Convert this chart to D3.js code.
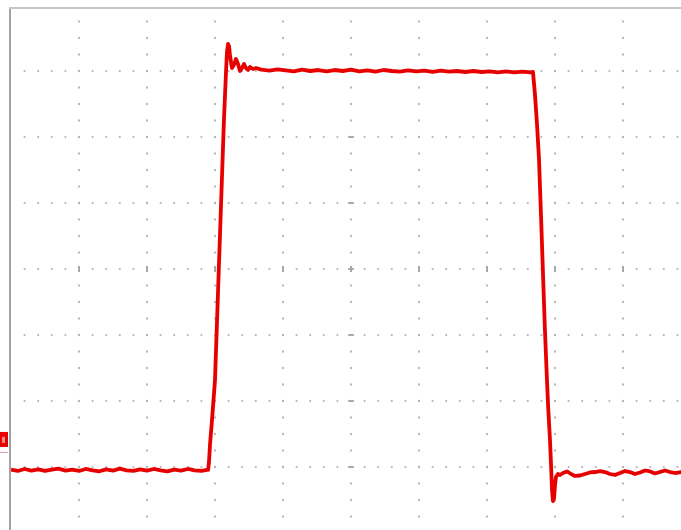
<!DOCTYPE html>
<html>
<head>
<meta charset="utf-8">
<script src="https://cdn.jsdelivr.net/npm/d3@7"></script>
<style>
html,body{margin:0;padding:0;background:#fff;}
svg{display:block;}
</style>
</head>
<body>
<svg id="chart" width="681" height="530"></svg>
<script>
// Time in ns (10 div x 50 ns), amplitude in mV (8 div x 100 mV)
const baseTime = [0,5,10,15,20,25,30,35,40,45,50,55,60,65,70,75,80,85,90,95,100,105,110,115,120,125,130,135,140,144.2];
const baseVolt = [-304,-306,-303,-305.5,-303.5,-306,-304,-302.5,-305.5,-304,-306,-303,-305,-306.5,-303.5,-305.5,-302.5,-305,-306,-303.5,-305.5,-303,-305,-306.5,-304,-305.5,-303,-305,-306,-304.5];

const riseTime = [144.9,145.6,146.3,147.8,150,152.2,154.4,156.6,158.1,158.8,159.6,160.3,161,162.5,163.9,165.4,166.9,168.4,169.8,171.3,172.8,174.3,175.7,177.9,180.1];
const riseVolt = [-304.5,-292.4,-266.7,-228.8,-168.2,-36.4,95.5,227.3,298.5,328.8,340.9,337.9,324.2,304.5,309.1,318.2,310.6,300,304.5,310.6,304.5,301.5,306.1,303,304.5];

const topTime = [184,190,196,202,208,214,220,226,232,238,244,250,256,262,268,274,280,286,292,298,304,310,316,322,328,334,340,346,352,358,364,370,376,382];
const topVolt = [302,300.5,302.5,301,299.5,302,300,301.5,299.5,301.5,300,302,299.5,301,299,301.5,300,299,301,299.5,300.5,298.5,300.5,299,300,298.5,300,298.5,299.5,298,299.5,298,299,298];

const fallTime = [383.8,385.3,386.8,388.2,389.7,391.2,392.6,394.1,394.9,396.3,397.1,397.8,398.5,399.3,400,400.7,402.2];
const fallVolt = [298.5,263.6,218.2,168.2,81.8,-9.1,-92.4,-168.2,-206.1,-259.1,-297,-334.8,-351.5,-347,-327.3,-315.2,-310.6];

const tailTime = [403.7,405.9,408.8,411.8,414.7,418.4,422.1,425.7,429.4,433.1,436.8,440.4,444.1,447.8,451.5,455.1,458.8,462.5,466.2,469.9,473.5,477.2,480.9,484.6,488.2,492.6,500];
const tailVolt = [-312.1,-309.1,-306.8,-310.6,-313.6,-312.9,-310.6,-308.3,-307.6,-306.1,-307.6,-310.6,-312.1,-309.1,-306.1,-307.6,-310.6,-308.3,-305.3,-306.8,-309.8,-307.6,-305.3,-307.6,-309.1,-307.6,-307.6];

const groundMarker = -259; // channel 1 reference level (mV)

const xDomain = [0, 500];
const yDomain = [-400, 400];
const xMajorStep = 50, xMinorStep = 10;
const yMajorStep = 100, yMinorStep = 25;

const svg = d3.select('#chart');
const x = d3.scaleLinear().domain(xDomain).range([11, 691]);
const y = d3.scaleLinear().domain(yDomain).range([533, 5]);

const xMajor = d3.range(xDomain[0], xDomain[1] + 1, xMajorStep);
const yMajor = d3.range(yDomain[0], yDomain[1], yMajorStep);      // top edge row drawn by frame
const xMinor = d3.range(xDomain[0], xDomain[1] + 1, xMinorStep);
const yMinor = d3.range(yDomain[0], yDomain[1] + 1, yMinorStep);

const defs = svg.append('defs');
defs.append('filter').attr('id', 'soft')
  .append('feGaussianBlur').attr('stdDeviation', 0.45);
defs.append('clipPath').attr('id', 'clip')
  .append('rect').attr('x', 11).attr('y', 9).attr('width', 680).attr('height', 530);

const grid = svg.append('g').attr('filter', 'url(#soft)');
const dotColor = '#b4b4b4';

// dots along horizontal major lines
yMajor.forEach(yv => {
  xMinor.forEach(xv => {
    if (xv === 0) return;
    grid.append('rect')
      .attr('x', x(xv) - 0.9).attr('y', y(yv) - 0.9)
      .attr('width', 1.8).attr('height', 1.8)
      .attr('fill', dotColor);
  });
});
// dots along vertical major lines
xMajor.forEach(xv => {
  if (xv === 0) return;
  yMinor.forEach(yv => {
    if (y(yv) < 9) return;
    grid.append('rect')
      .attr('x', x(xv) - 0.9).attr('y', y(yv) - 1.1)
      .attr('width', 1.8).attr('height', 2.2)
      .attr('fill', dotColor);
  });
});
// center line ticks
xMajor.forEach(xv => {
  if (xv === 0) return;
  grid.append('rect')
    .attr('x', x(xv) - 1).attr('y', y(0) - 3)
    .attr('width', 2).attr('height', 6)
    .attr('fill', '#a8a8a8');
});
yMajor.forEach(yv => {
  grid.append('rect')
    .attr('x', x(250) - 3).attr('y', y(yv) - 0.9)
    .attr('width', 6).attr('height', 1.8)
    .attr('fill', '#a8a8a8');
});

// frame (left & top)
svg.append('line').attr('x1', 10).attr('x2', 10).attr('y1', 7).attr('y2', 530)
  .attr('stroke', '#a4a4a4').attr('stroke-width', 2);
svg.append('line').attr('x1', 9).attr('x2', 681).attr('y1', 8).attr('y2', 8)
  .attr('stroke', '#c6c6c6').attr('stroke-width', 2);

// trace
const times = [].concat(baseTime, riseTime, topTime, fallTime, tailTime);
const volts = [].concat(baseVolt, riseVolt, topVolt, fallVolt, tailVolt);
const pts = times.map((t, i) => [t, volts[i]]);

const line = d3.line().x(d => x(d[0])).y(d => y(d[1]));
const traceG = svg.append('g').attr('clip-path', 'url(#clip)');
traceG.append('path')
  .datum(pts)
  .attr('d', line)
  .attr('fill', 'none')
  .attr('stroke', '#e60000')
  .attr('stroke-width', 3.8)
  .attr('stroke-linejoin', 'round')
  .attr('filter', 'url(#soft)');

// channel ground marker at left edge
const gy = y(groundMarker);
const mk = svg.append('g').attr('filter', 'url(#soft)');
mk.append('rect').attr('x', 0).attr('y', gy - 8).attr('width', 8).attr('height', 15).attr('fill', '#e60000');
mk.append('rect').attr('x', 2).attr('y', gy - 3).attr('width', 3).attr('height', 6).attr('fill', '#fff').attr('opacity', 0.55);
mk.append('line').attr('x1', 0).attr('x2', 8).attr('y1', gy + 12.5).attr('y2', gy + 12.5)
  .attr('stroke', '#d8a0a0').attr('stroke-width', 1);
</script>
</body>
</html>
